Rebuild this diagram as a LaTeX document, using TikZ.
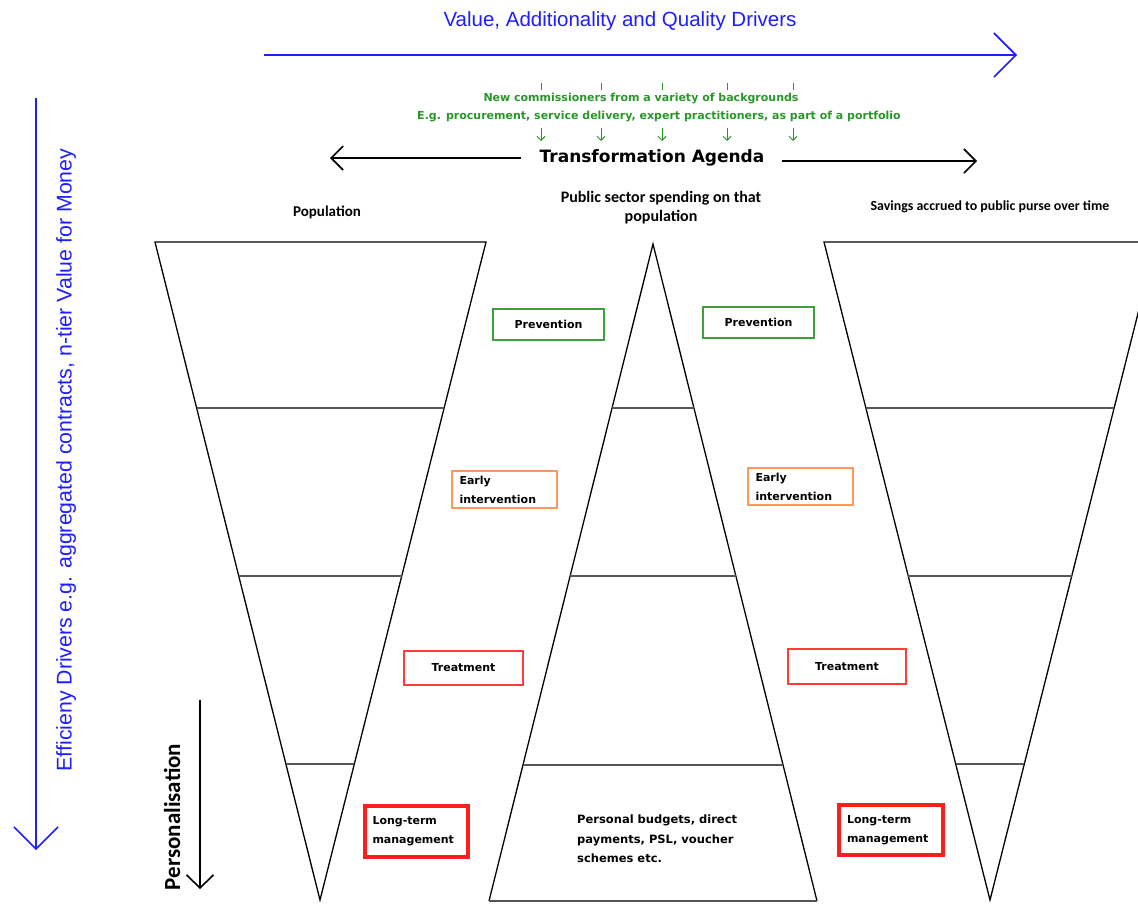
\documentclass[tikz,border=0pt]{standalone}
\usepackage{fontspec}
\setmainfont{DejaVu Sans}
\newfontfamily\carl{Carlito}
\newfontfamily\libs{Liberation Sans}
\usetikzlibrary{arrows.meta,calc}
\definecolor{dblue}{RGB}{30,30,255}
\definecolor{dgreen}{RGB}{40,150,40}
\definecolor{bgreen}{RGB}{60,160,60}
\definecolor{borange}{RGB}{255,150,90}
\definecolor{bred}{RGB}{255,60,60}
\definecolor{lred}{RGB}{255,30,30}
\definecolor{hgray}{RGB}{85,85,85}
\tikzset{
  bluearrow/.style={dblue, line width=1.6pt, -{Straight Barb[length=22pt,width=44pt,line width=1.6pt]}},
  blackarrow/.style={black, line width=1.6pt, -{Straight Barb[length=12pt,width=24pt,line width=1.6pt]}},
  greenarrow/.style={dgreen, line width=1pt, -{Straight Barb[length=4pt,width=8pt,line width=1pt]}},
  tick/.style={dgreen, line width=1pt},
  bluetext/.style={dblue, font=\libs\fontsize{20.5}{24}\selectfont, inner sep=0},
  greentext/.style={dgreen, font=\bfseries\fontsize{11}{13}\selectfont, inner sep=0},
  headtext/.style={font=\carl\bfseries\fontsize{16}{19}\selectfont, inner sep=0, align=center},
  tri/.style={black, line width=1.3pt, line join=miter},
  hline/.style={hgray, line width=2pt},
  stagebox/.style={draw, line width=1.5pt, inner sep=0, font=\bfseries\fontsize{11}{19}\selectfont},
  ltbox/.style={draw=lred, line width=3.2pt, inner sep=0, font=\bfseries\fontsize{11}{19}\selectfont, align=left, text width=88pt},
}
\begin{document}
\begin{tikzpicture}[x=1pt,y=-1pt]
\useasboundingbox (0,0) rectangle (1138,903);
\clip (0,0) rectangle (1138,903);

% blue drivers
\coordinate (topS) at (264,55);
\coordinate (topE) at (1017,55);
\draw[bluearrow] (topS) -- (topE);
\node[bluetext] (vad) at (620,21) {Value, Additionality and Quality Drivers};

\coordinate (leftS) at (36,98);
\coordinate (leftE) at (36,850);
\draw[bluearrow] (leftS) -- (leftE);
\node[bluetext, font=\libs\fontsize{21.3}{24}\selectfont, rotate=90] (eff) at (66,460) {Efficieny Drivers e.g. aggregated contracts, n-tier Value for Money};

% green commissioners
\node[greentext] (g1) at (641,99) {New commissioners from a variety of backgrounds};
\node[greentext] (g2) at (659,117) {E.g. procurement, service delivery, expert practitioners, as part of a portfolio};
\foreach \i/\xx in {1/541,2/601,3/662,4/727,5/793}{
  \coordinate (tkA\i) at (\xx,83);
  \coordinate (tkB\i) at (\xx,90);
  \draw[tick] (tkA\i) -- (tkB\i);
  \coordinate (daA\i) at (\xx,128);
  \coordinate (daB\i) at (\xx,141);
  \draw[greenarrow] (daA\i) -- (daB\i);
}

% transformation agenda
\node[font=\bfseries\fontsize{17}{20}\selectfont, inner sep=0] (tag) at (652,158) {Transformation Agenda};
\coordinate (tagL) at (521,158);
\coordinate (tagLE) at (330,158);
\coordinate (tagR) at (782,161);
\coordinate (tagRE) at (977,161);
\draw[blackarrow] (tagL) -- (tagLE);
\draw[blackarrow] (tagR) -- (tagRE);

% headers
\node[headtext, font=\carl\bfseries\fontsize{15}{19}\selectfont] (hpop) at (327,212) {Population};
\node[headtext] (hspend) at (661,208) {Public sector spending on that\\population};
\node[headtext, font=\carl\bfseries\fontsize{13.9}{16}\selectfont] (hsave) at (990,207) {Savings accrued to public purse over time};

% left inverted triangle
\coordinate (LA) at (155,242);
\coordinate (LB) at (486,242);
\coordinate (LC) at (320,900);
\draw[tri] (LA) -- (LB) -- (LC) -- cycle;
\foreach \t in {0.2523,0.5076,0.7933}{
  \draw[hline] ($(LA)!\t!(LC)$) -- ($(LB)!\t!(LC)$);
}
% middle triangle
\coordinate (MA) at (653,244);
\coordinate (MB) at (489,901);
\coordinate (MC) at (817,901);
\draw[tri] (MB) -- (MA) -- (MC);
\draw[hline] (MB) -- (MC);
\foreach \t in {0.25,0.506,0.7927}{
  \draw[hline] ($(MA)!\t!(MB)$) -- ($(MA)!\t!(MC)$);
}
% right inverted triangle
\coordinate (RA) at (824,242);
\coordinate (RB) at (1156,242);
\coordinate (RC) at (990,900);
\draw[tri] (RA) -- (RB) -- (RC) -- cycle;
\foreach \t in {0.2523,0.5076,0.7933}{
  \draw[hline] ($(RA)!\t!(RC)$) -- ($(RB)!\t!(RC)$);
}

% stage boxes
\node[stagebox, draw=bgreen, minimum width=111pt, minimum height=31pt] (prevL) at (548.5,324.5) {Prevention};
\node[stagebox, draw=bgreen, minimum width=111pt, minimum height=31pt] (prevR) at (758.5,322.5) {Prevention};
\node[stagebox, draw=borange, minimum width=105pt, minimum height=37pt, align=left, text width=90pt] (earlyL) at (504.5,489.5) {Early\\intervention};
\node[stagebox, draw=borange, minimum width=105pt, minimum height=37pt, align=left, text width=90pt] (earlyR) at (800.5,486.5) {Early\\intervention};
\node[stagebox, draw=bred, minimum width=119pt, minimum height=34pt] (treatL) at (463.5,668) {Treatment};
\node[stagebox, draw=bred, minimum width=118pt, minimum height=35pt] (treatR) at (847,666.5) {Treatment};
\node[ltbox, minimum width=103pt, minimum height=51pt] (ltL) at (416.5,831.5) {Long-term\\management};
\node[ltbox, minimum width=104pt, minimum height=50pt] (ltR) at (891,830) {Long-term\\management};

\node[anchor=north west, inner sep=0, align=left, font=\bfseries\fontsize{11.5}{19.5}\selectfont] (pb) at (577,815) {Personal budgets, direct\\payments, PSL, voucher\\schemes etc.};

% personalisation
\coordinate (perS) at (200,700);
\coordinate (perE) at (200,889);
\draw[black, line width=1.6pt, -{Straight Barb[length=13pt,width=27pt,line width=1.6pt]}] (perS) -- (perE);
\node[rotate=90, font=\carl\bfseries\fontsize{23}{26}\selectfont, inner sep=0] (pers) at (172,817) {Personalisation};
\end{tikzpicture}
\end{document}
